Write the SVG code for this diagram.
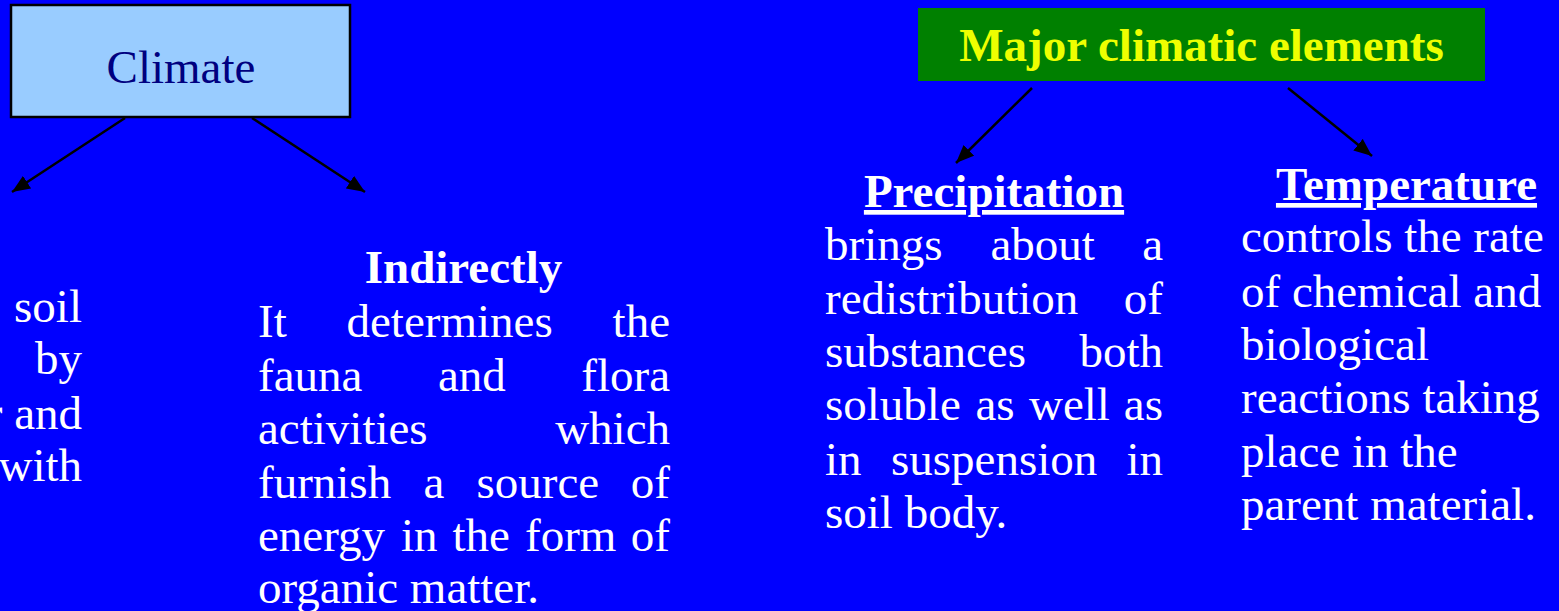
<svg xmlns="http://www.w3.org/2000/svg" width="1559" height="611" viewBox="0 0 1559 611">
<defs>
<marker id="ah" markerUnits="userSpaceOnUse" markerWidth="20" markerHeight="16" refX="18" refY="8" orient="auto">
<path d="M0,0.5 L18,8 L0,15.5 Z" fill="#000"/>
</marker>
<style>
.t{font-family:"Liberation Serif","Times New Roman",serif;font-size:47px;fill:#fff}
.b{font-weight:bold}
.c{stroke:#000;stroke-width:2.5;fill:none;marker-end:url(#ah)}
</style>
</defs>
<rect width="1559" height="611" fill="#0000FF"/>
<g id="climate">
<rect x="11" y="5" width="339" height="112" fill="#99CCFF" stroke="#000" stroke-width="2.5"/>
<text x="181" y="83" class="t" style="fill:#000080" text-anchor="middle">Climate</text>
</g>
<g id="major">
<rect x="918" y="8" width="567" height="73" fill="#008000"/>
<text x="1201.5" y="61" class="t b" style="fill:#EEFF00" text-anchor="middle">Major climatic elements</text>
</g>
<g id="connectors">
<line class="c" x1="125" y1="118" x2="12" y2="192"/>
<line class="c" x1="252" y1="118" x2="365" y2="192"/>
<line class="c" x1="1032" y1="88" x2="956" y2="163"/>
<line class="c" x1="1288" y1="88" x2="1372" y2="156"/>
</g>
<g id="directly">
<text class="t" x="82" y="322" text-anchor="end">soil</text>
<text class="t" x="82" y="374" text-anchor="end">by</text>
<text class="t" x="82" y="429" text-anchor="end">r and</text>
<text class="t" x="82" y="481" text-anchor="end">with</text>
</g>
<g id="indirectly">
<text class="t b" x="463.5" y="283" text-anchor="middle">Indirectly</text>
<text class="t" y="337"><tspan x="258">It</tspan><tspan x="346.5">determines</tspan></text>
<text class="t" x="670" y="337" text-anchor="end">the</text>
<text class="t" y="391"><tspan x="258">fauna</tspan><tspan x="438">and</tspan></text>
<text class="t" x="670" y="391" text-anchor="end">flora</text>
<text class="t" x="258" y="444">activities</text>
<text class="t" x="670" y="444" text-anchor="end">which</text>
<text class="t" y="498"><tspan x="258">furnish</tspan><tspan x="423.5">a</tspan><tspan x="476.5">source</tspan></text>
<text class="t" x="670" y="498" text-anchor="end">of</text>
<text class="t" y="551"><tspan x="258">energy</tspan><tspan x="401">in</tspan><tspan x="452.5">the</tspan><tspan x="525">form</tspan></text>
<text class="t" x="670" y="551" text-anchor="end">of</text>
<text class="t" x="258" y="603">organic matter.</text>
</g>
<g id="precipitation">
<text class="t b" x="994" y="207" text-anchor="middle" text-decoration="underline">Precipitation</text>
<text class="t" y="260"><tspan x="825">brings</tspan><tspan x="990.5">about</tspan></text>
<text class="t" x="1163" y="260" text-anchor="end">a</text>
<text class="t" x="825" y="314">redistribution</text>
<text class="t" x="1163" y="314" text-anchor="end">of</text>
<text class="t" x="825" y="367">substances</text>
<text class="t" x="1163" y="367" text-anchor="end">both</text>
<text class="t" y="420"><tspan x="825">soluble</tspan><tspan x="975.5">as</tspan><tspan x="1029">well</tspan></text>
<text class="t" x="1163" y="420" text-anchor="end">as</text>
<text class="t" y="475"><tspan x="825">in</tspan><tspan x="891">suspension</tspan></text>
<text class="t" x="1163" y="475" text-anchor="end">in</text>
<text class="t" x="825" y="528">soil body.</text>
</g>
<g id="temperature">
<text class="t b" x="1406.5" y="200" text-anchor="middle" text-decoration="underline">Temperature</text>
<text class="t" x="1241" y="252">controls the rate</text>
<text class="t" x="1241" y="307">of chemical and</text>
<text class="t" x="1241" y="360">biological</text>
<text class="t" x="1241" y="413">reactions taking</text>
<text class="t" x="1241" y="467">place in the</text>
<text class="t" x="1241" y="520">parent material.</text>
</g>
</svg>
